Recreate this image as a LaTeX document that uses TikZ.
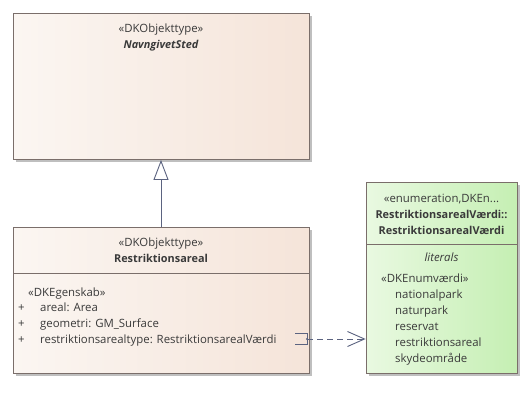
\documentclass[tikz,border=0pt]{standalone}
\usepackage{fontspec}
\setmainfont{Open Sans}
\usetikzlibrary{arrows.meta,shadows}
\definecolor{peachR}{HTML}{F5E4D9}
\definecolor{peachL}{HTML}{FBF6F2}
\definecolor{greenL}{HTML}{E9F9E1}
\definecolor{greenR}{HTML}{C5EFB3}
\definecolor{edge}{HTML}{7A6E6A}
\definecolor{txt}{HTML}{3A3A3A}
\definecolor{conn}{HTML}{5B6380}
\newcommand{\fsz}{\fontsize{11.4}{14}\selectfont}
\newcommand{\fszb}{\fontsize{10.9}{14}\selectfont\bfseries}
\tikzset{
  classbox/.style={draw=edge, line width=0.8pt, inner sep=0pt, left color=peachL, right color=peachR,
    drop shadow={shadow xshift=3pt, shadow yshift=-3pt, fill=black, opacity=0.25}},
  enumbox/.style={draw=edge, line width=0.8pt, inner sep=0pt, left color=greenL, right color=greenR,
    drop shadow={shadow xshift=3pt, shadow yshift=-3pt, fill=black, opacity=0.25}},
  lbl/.style={inner sep=0pt, anchor=base, font=\fsz, text=txt},
  lblw/.style={lbl, anchor=base west},
}
\begin{document}
\begin{tikzpicture}[x=1pt,y=-1pt]
\useasboundingbox (0,0) rectangle (530,410);
\fill[white] (0,0) rectangle (530,410);
% boxes
\node[classbox, minimum width=296pt, minimum height=146pt] (ns) at (161,86) {};
\node[classbox, minimum width=296pt, minimum height=146pt] (rs) at (161,300) {};
\node[enumbox, minimum width=151pt, minimum height=191pt] (en) at (441.5,277.5) {};
% dividers
\draw[edge, line width=0.8pt] (13,273) -- (309,273);
\draw[edge, line width=0.8pt] (366,244) -- (517,244);
% top box text
\node[lbl] (ns1) at (161,32) {«DKObjekttype»};
\node[lbl, font=\fszb\itshape] (ns2) at (161,48) {NavngivetSted};
% bottom box text
\node[lbl] (rs1) at (161,246) {«DKObjekttype»};
\node[lbl, font=\fszb] (rs2) at (161,262) {Restriktionsareal};
\node[lblw] (st) at (28,296) {«DKEgenskab»};
\node[lblw] (p1) at (18,311) {+};
\node[lblw] (p2) at (18,327) {+};
\node[lblw] (p3) at (18,343) {+};
\node[lblw] (a1) at (40,311) {areal: Area};
\node[lblw] (a2) at (40,327) {geometri: GM\_Surface};
\node[lblw] (a3) at (40,343) {restriktionsarealtype: RestriktionsarealVærdi};
% enum text
\node[lbl] (e1) at (441.5,202) {«enumeration,DKEn...};
\node[lbl, font=\fszb] (e2) at (441.5,218) {RestriktionsarealVærdi::};
\node[lbl, font=\fszb] (e3) at (441.5,234) {RestriktionsarealVærdi};
\node[lbl, font=\fsz\itshape] (e4) at (441.5,261) {literals};
\node[lblw] (e5) at (381,282) {«DKEnumværdi»};
\node[lblw] (l1) at (395,298) {nationalpark};
\node[lblw] (l2) at (395,314) {naturpark};
\node[lblw] (l3) at (395,330) {reservat};
\node[lblw] (l4) at (395,346) {restriktionsareal};
\node[lblw] (l5) at (395,362) {skydeområde};
% generalization
\draw[conn, line width=0.9pt, -{Triangle[open, length=20pt, width=15pt, line width=0.9pt]}, shorten >=0.5pt] (rs.north) -- (ns.south);
% dependency
\coordinate (br) at (307,339);
\draw[conn, line width=0.9pt] (295,333.5) -- (307,333.5) -- (307,344.5) -- (295,344.5);
\fill[conn] (br) circle (1.2pt);
\draw[conn, line width=0.9pt, dash pattern=on 6pt off 4pt, -{Straight Barb[length=17pt, width=15pt, line width=0.9pt]}] (br) -- (br -| en.west);
\end{tikzpicture}
\end{document}
